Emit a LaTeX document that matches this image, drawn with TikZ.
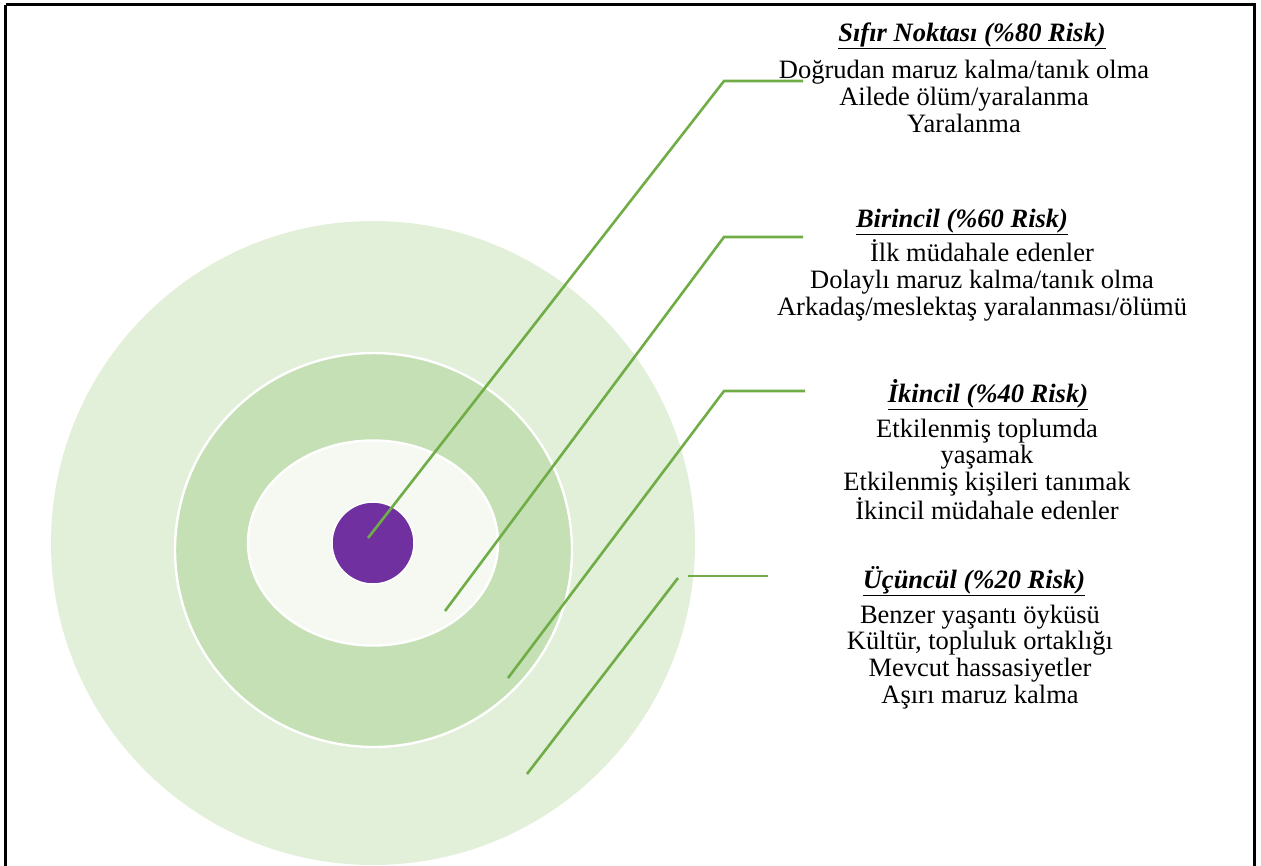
\documentclass[tikz,border=0pt]{standalone}
\usepackage{fontspec}
\setmainfont{Liberation Serif}
\definecolor{ringout}{HTML}{E2EFD9}
\definecolor{ringmid}{HTML}{C5E0B4}
\definecolor{ringin}{HTML}{F5F9F2}
\definecolor{core}{HTML}{7030A0}
\definecolor{leader}{HTML}{70AD47}
\tikzset{
  outerring/.style={fill=ringout},
  midring/.style={fill=ringmid, draw=white, line width=2.4pt},
  innerring/.style={fill=ringin, draw=white, line width=2.4pt},
  corering/.style={fill=core, draw=white, line width=1.5pt},
  leaderline/.style={draw=leader, line width=2.6pt},
  frame/.style={draw=black, line width=3pt},
  titletext/.style={anchor=base, inner sep=0pt, font=\fontsize{26.5}{26.5}\selectfont\bfseries\itshape},
  bodytext/.style={anchor=base, inner sep=0pt, align=center, font=\fontsize{26.5}{26.6}\selectfont}
}
\begin{document}
\begin{tikzpicture}[x=1pt,y=-1pt]
\useasboundingbox (0,0) rectangle (1261,865);
\begin{scope}
\clip (0,0) rectangle (1261,865);
% rings
\fill[outerring] (373,543) ellipse [x radius=322, y radius=322];
\filldraw[midring] (373.5,550) ellipse [x radius=198.5, y radius=197];
\filldraw[innerring] (373,543) ellipse [x radius=125, y radius=102.5];
\filldraw[corering] (373,543) ellipse [x radius=41, y radius=41];
% leader lines
\coordinate (p1) at (368,538);
\coordinate (e1) at (724,81);
\coordinate (h1) at (803,81);
\coordinate (p2) at (445,611);
\coordinate (e2) at (724,237);
\coordinate (h2) at (803,237);
\coordinate (p3) at (508,678);
\coordinate (e3) at (724,391);
\coordinate (h3) at (805,391);
\coordinate (p4) at (527,774);
\coordinate (e4) at (678,578);
\coordinate (s4) at (688,576);
\coordinate (h4) at (768,576);
\draw[leaderline] (p1) -- (e1) -- (h1);
\draw[leaderline] (p2) -- (e2) -- (h2);
\draw[leaderline] (p3) -- (e3) -- (h3);
\draw[leaderline] (p4) -- (e4);
\draw[leaderline] (s4) -- (h4);
% frame
\draw[frame] (5.5,4.5) -- (1254,4.5) -- (1254,880);
\draw[frame] (5.5,4.5) -- (5.5,880);
\end{scope}
% texts (body nodes anchored at the baseline of their last line)
\node[titletext] (t1) at (972,41) {\underline{Sıfır Noktası (\%80 Risk)}};
\node[bodytext] (b1) at (964,132) {Doğrudan maruz kalma/tanık olma\\Ailede ölüm/yaralanma\\Yaralanma};
\node[titletext] (t2) at (962,227) {\underline{Birincil (\%60 Risk)}};
\node[bodytext] (b2) at (982,315) {İlk müdahale edenler\\Dolaylı maruz kalma/tanık olma\\Arkadaş/meslektaş yaralanması/ölümü};
\node[titletext] (t3) at (988,402) {\underline{İkincil (\%40 Risk)}};
\node[bodytext] (b3) at (987,519) {Etkilenmiş toplumda\\yaşamak\\Etkilenmiş kişileri tanımak\\İkincil müdahale edenler};
\node[titletext] (t4) at (974,588) {\underline{Üçüncül (\%20 Risk)}};
\node[bodytext] (b4) at (980,703) {Benzer yaşantı öyküsü\\Kültür, topluluk ortaklığı\\Mevcut hassasiyetler\\Aşırı maruz kalma};
\end{tikzpicture}
\end{document}
